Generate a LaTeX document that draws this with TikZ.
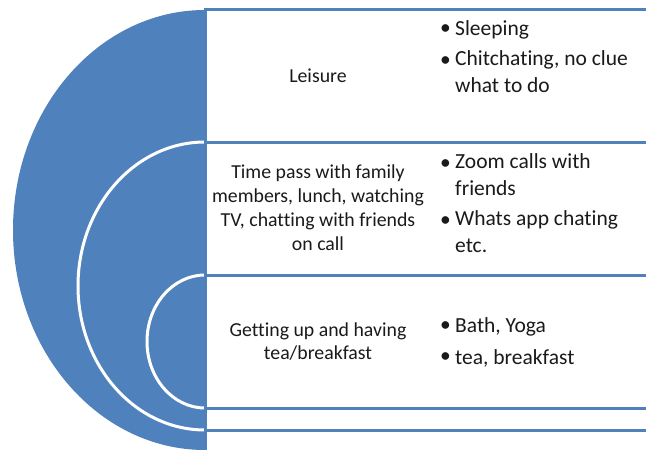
\documentclass[tikz,border=0pt]{standalone}
\usepackage{fontspec}
\setmainfont{Carlito}[Ligatures=NoCommon]
\definecolor{obl}{HTML}{4F81BD}
\definecolor{txt}{HTML}{1A1A1A}
\begin{document}
\begin{tikzpicture}[x=1pt,y=-1pt,
  rule/.style={draw=obl,line width=3pt},
  arcw/.style={draw=white,line width=3pt},
  ltext/.style={align=center,text=txt,font=\fontsize{19.8}{23.8}\selectfont,inner sep=0pt},
  btext/.style={align=left,anchor=west,text=txt,font=\fontsize{21.5}{27}\selectfont,inner sep=0pt},
  bul/.style={anchor=west,text=txt,font=\fontsize{21.5}{27}\selectfont,inner sep=0pt}]
\useasboundingbox[fill=white] (0,0) rectangle (646,450);
% half ellipse with white arcs
\begin{scope}
  \clip (0,0) rectangle (205,450);
  \fill[obl] (205,230) ellipse [x radius=192, y radius=220];
  \draw[arcw] (205,286) ellipse [x radius=127, y radius=144];
  \draw[arcw] (205,341.5) ellipse [x radius=58, y radius=66.5];
\end{scope}
% row rules
\draw[rule] (205,9.5) -- (646,9.5);
\draw[rule] (205,142) -- (646,142);
\draw[rule] (205,275) -- (646,275);
\draw[rule] (205,408) -- (646,408);
\draw[rule] (205,430) -- (646,430);
\draw[rule] (205,8) -- (205,450);
% left texts
\node[ltext] (l1) at (318,76) {Leisure};
\node[ltext] (l2) at (318,207.5) {Time pass with family\\members, lunch, watching\\TV, chatting with friends\\on call};
\node[ltext] (l3) at (318,341.5) {Getting up and having\\tea/breakfast};
% bullets row 1
\node[bul] (b1a) at (440,30) {•};
\node[btext] (t1a) at (455,30) {Sleeping};
\node[bul] (b1b) at (440,62) {•};
\node[btext,anchor=north west] (t1b) at (455,50) {Chitchating, no clue\\what to do};
% bullets row 2
\node[bul] (b2a) at (440,165) {•};
\node[btext,anchor=north west] (t2a) at (455,153) {Zoom calls with\\friends};
\node[bul] (b2b) at (440,222) {•};
\node[btext,anchor=north west] (t2b) at (455,210) {Whats app chating\\etc.};
% bullets row 3
\node[bul] (b3a) at (440,327) {•};
\node[btext] (t3a) at (455,327) {Bath, Yoga};
\node[bul] (b3b) at (440,358) {•};
\node[btext] (t3b) at (455,358) {tea, breakfast};
\end{tikzpicture}
\end{document}
